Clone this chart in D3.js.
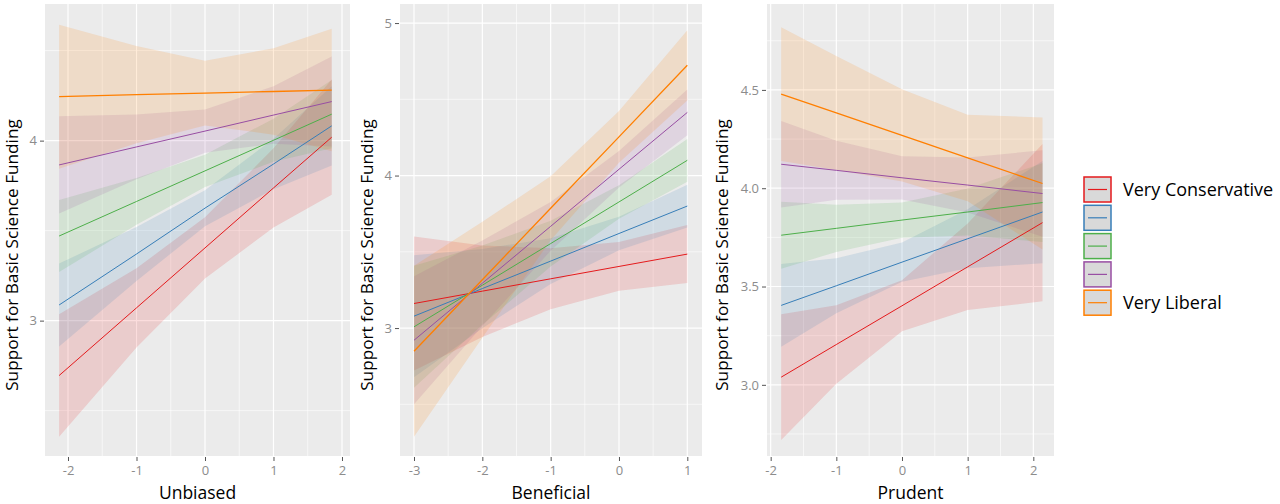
<!DOCTYPE html>
<html>
<head>
<meta charset="utf-8">
<script src="https://cdn.jsdelivr.net/npm/d3@7"></script>
<style>
  html, body { margin: 0; padding: 0; background: #ffffff; }
  svg { display: block; }
</style>
</head>
<body>
<svg id="chart" width="1280" height="504"></svg>
<script>
// ---- Data ----
const groups = ["Very Conservative", "", "", "", "Very Liberal"];
const groupColors = ["#E41A1C", "#377EB8", "#4DAF4A", "#984EA3", "#FF7F00"];

// Panel 1: Unbiased
const unbiasedX = [-2.13, -1, 0, 1, 1.85];
const unbiasedFit = [
  [2.695, 3.071, 3.404, 3.737, 4.019],
  [3.087, 3.370, 3.625, 3.870, 4.082],
  [3.470, 3.662, 3.832, 4.002, 4.147],
  [3.865, 3.965, 4.053, 4.142, 4.217],
  [4.244, 4.255, 4.264, 4.273, 4.281]
];
const unbiasedHalf = [
  [0.34, 0.22, 0.17, 0.22, 0.32],
  [0.23, 0.15, 0.10, 0.14, 0.22],
  [0.20, 0.13, 0.09, 0.12, 0.19],
  [0.27, 0.18, 0.12, 0.16, 0.25],
  [0.40, 0.27, 0.18, 0.24, 0.34]
];
const unbiasedXTicks = [-2, -1, 0, 1, 2];
const unbiasedYTicks = [3, 4];

// Panel 2: Beneficial
const beneficialX = [-3, -2, -1, 0, 1];
const beneficialFit = [
  [3.161, 3.242, 3.323, 3.404, 3.485],
  [3.078, 3.259, 3.439, 3.620, 3.800],
  [3.008, 3.281, 3.554, 3.827, 4.100],
  [2.920, 3.294, 3.667, 4.041, 4.414],
  [2.848, 3.317, 3.786, 4.254, 4.723]
];
const beneficialHalf = [
  [0.44, 0.30, 0.20, 0.16, 0.19],
  [0.40, 0.26, 0.15, 0.11, 0.14],
  [0.40, 0.26, 0.15, 0.11, 0.14],
  [0.42, 0.28, 0.16, 0.12, 0.15],
  [0.56, 0.38, 0.21, 0.17, 0.23]
];
const beneficialXTicks = [-3, -2, -1, 0, 1];
const beneficialYTicks = [3, 4, 5];

// Panel 3: Prudent
const prudentX = [-1.84, -1, 0, 1, 2.14];
const prudentFit = [
  [3.039, 3.205, 3.402, 3.600, 3.825],
  [3.404, 3.504, 3.624, 3.743, 3.879],
  [3.761, 3.796, 3.838, 3.879, 3.927],
  [4.122, 4.091, 4.053, 4.016, 3.973],
  [4.479, 4.383, 4.269, 4.154, 4.024]
];
const prudentHalf = [
  [0.32, 0.20, 0.13, 0.22, 0.40],
  [0.21, 0.14, 0.10, 0.15, 0.26],
  [0.17, 0.12, 0.09, 0.12, 0.20],
  [0.22, 0.15, 0.11, 0.14, 0.22],
  [0.34, 0.29, 0.235, 0.22, 0.336]
];
const prudentXTicks = [-2, -1, 0, 1, 2];
const prudentYTicks = [3.0, 3.5, 4.0, 4.5];

// ---- Layout ----
const svg = d3.select("#chart");
const FONT = "'Open Sans', 'DejaVu Sans', sans-serif";
const yTitle = "Support for Basic Science Funding";

const panels = [
  { title: "Unbiased", xs: unbiasedX, fit: unbiasedFit, half: unbiasedHalf,
    xTicks: unbiasedXTicks, yTicks: unbiasedYTicks, yFmt: d => String(d),
    left: 45, right: 350, xDom: [-2.336, 2.117], yDom: [2.248, 4.759],
    xMinor: [-1.5, -0.5, 0.5, 1.5], yMinor: [2.5, 3.5, 4.5], yTitleX: 18 },
  { title: "Beneficial", xs: beneficialX, fit: beneficialFit, half: beneficialHalf,
    xTicks: beneficialXTicks, yTicks: beneficialYTicks, yFmt: d => String(d),
    left: 400, right: 702, xDom: [-3.205, 1.215], yDom: [2.161, 5.125],
    xMinor: [-2.5, -1.5, -0.5, 0.5], yMinor: [2.5, 3.5, 4.5], yTitleX: 373 },
  { title: "Prudent", xs: prudentX, fit: prudentFit, half: prudentHalf,
    xTicks: prudentXTicks, yTicks: prudentYTicks, yFmt: d => d.toFixed(1),
    left: 767, right: 1054, xDom: [-2.056, 2.315], yDom: [2.638, 4.937],
    xMinor: [-1.5, -0.5, 0.5, 1.5], yMinor: [2.75, 3.25, 3.75, 4.25, 4.75], yTitleX: 728 }
];
const panelTop = 4, panelBottom = 456;

panels.forEach(p => {
  const x = d3.scaleLinear().domain(p.xDom).range([p.left, p.right]);
  const y = d3.scaleLinear().domain(p.yDom).range([panelBottom, panelTop]);
  const g = svg.append("g");

  g.append("rect").attr("x", p.left).attr("y", panelTop)
    .attr("width", p.right - p.left).attr("height", panelBottom - panelTop)
    .attr("fill", "#EBEBEB");

  // minor grid
  g.selectAll(".xminor").data(p.xMinor).join("line")
    .attr("x1", d => x(d)).attr("x2", d => x(d)).attr("y1", panelTop).attr("y2", panelBottom)
    .attr("stroke", "#fff").attr("stroke-width", 0.6);
  g.selectAll(".yminor").data(p.yMinor).join("line")
    .attr("y1", d => y(d)).attr("y2", d => y(d)).attr("x1", p.left).attr("x2", p.right)
    .attr("stroke", "#fff").attr("stroke-width", 0.6);
  // major grid
  g.selectAll(".xmajor").data(p.xTicks).join("line")
    .attr("x1", d => x(d)).attr("x2", d => x(d)).attr("y1", panelTop).attr("y2", panelBottom)
    .attr("stroke", "#fff").attr("stroke-width", 1.2);
  g.selectAll(".ymajor").data(p.yTicks).join("line")
    .attr("y1", d => y(d)).attr("y2", d => y(d)).attr("x1", p.left).attr("x2", p.right)
    .attr("stroke", "#fff").attr("stroke-width", 1.2);

  // ribbons
  groups.forEach((name, i) => {
    const pts = p.xs.map((xv, j) => ({ x: xv, lo: p.fit[i][j] - p.half[i][j], hi: p.fit[i][j] + p.half[i][j] }));
    const area = d3.area().x(d => x(d.x)).y0(d => y(d.lo)).y1(d => y(d.hi));
    g.append("path").datum(pts).attr("d", area)
      .attr("fill", groupColors[i]).attr("fill-opacity", 0.15);
  });
  // lines
  groups.forEach((name, i) => {
    const pts = p.xs.map((xv, j) => ({ x: xv, v: p.fit[i][j] }));
    const line = d3.line().x(d => x(d.x)).y(d => y(d.v));
    g.append("path").datum(pts).attr("d", line)
      .attr("fill", "none").attr("stroke", groupColors[i])
      .attr("stroke-width", i === 4 ? 1.3 : 1);
  });

  // axes
  const xAxis = d3.axisBottom(x).tickValues(p.xTicks).tickSize(4).tickPadding(5).tickFormat(d => String(d));
  const ax = g.append("g").attr("transform", `translate(0,${panelBottom + 1})`).call(xAxis);
  ax.select(".domain").remove();
  ax.selectAll("line").attr("stroke", "#555").attr("stroke-width", 1);
  ax.selectAll("text").attr("fill", "#8C8C8C").attr("font-size", 13).attr("font-family", FONT);

  const yAxis = d3.axisLeft(y).tickValues(p.yTicks).tickSize(4).tickPadding(3).tickFormat(p.yFmt);
  const ay = g.append("g").attr("transform", `translate(${p.left - 1},0)`).call(yAxis);
  ay.select(".domain").remove();
  ay.selectAll("line").attr("stroke", "#555").attr("stroke-width", 1);
  ay.selectAll("text").attr("fill", "#8C8C8C").attr("font-size", 13).attr("font-family", FONT);

  // titles
  g.append("text").attr("x", (p.left + p.right) / 2).attr("y", 499)
    .attr("text-anchor", "middle").attr("font-size", 17.5).attr("font-family", FONT)
    .attr("fill", "#000").text(p.title);
  g.append("text").attr("transform", `translate(${p.yTitleX},255) rotate(-90)`)
    .attr("text-anchor", "middle").attr("font-size", 17.2).attr("font-family", FONT)
    .attr("fill", "#000").text(yTitle);
});

// ---- Legend ----
const lg = svg.append("g");
const legX = 1084, legY0 = 177, legStep = 28.3, boxW = 27, boxH = 25;
groups.forEach((name, i) => {
  const yy = legY0 + i * legStep;
  lg.append("rect").attr("x", legX).attr("y", yy).attr("width", boxW).attr("height", boxH)
    .attr("fill", "#D9D9D9").attr("stroke", groupColors[i]).attr("stroke-width", 1.5);
  lg.append("line").attr("x1", legX + 4).attr("x2", legX + boxW - 4)
    .attr("y1", yy + boxH / 2).attr("y2", yy + boxH / 2)
    .attr("stroke", groupColors[i]).attr("stroke-width", 1.2);
  if (name) {
    lg.append("text").attr("x", 1123).attr("y", yy + boxH / 2 + 6)
      .attr("font-size", 18).attr("font-family", FONT).attr("fill", "#000").text(name);
  }
});
</script>
</body>
</html>
